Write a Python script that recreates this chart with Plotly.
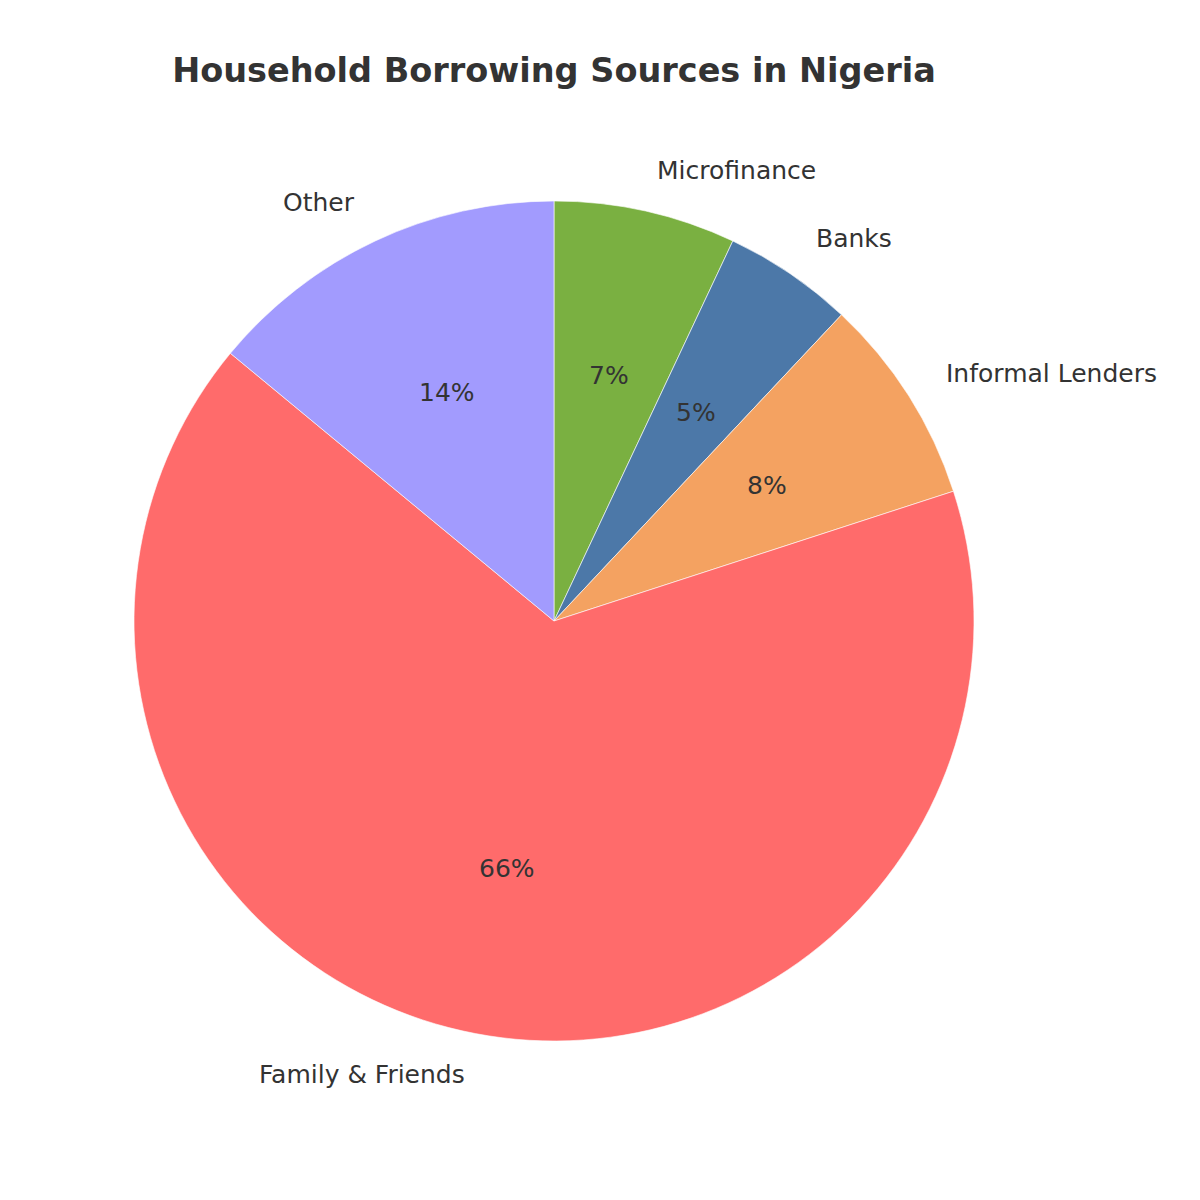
import numpy as np
import plotly.graph_objects as go

# data, in the order the slices run counterclockwise from 12 o'clock
sources = ["Other", "Family & Friends", "Informal Lenders", "Banks", "Microfinance"]
shares = [14, 66, 8, 5, 7]
colors = ["#A29BFE", "#FF6B6B", "#F4A261", "#4C78A8", "#7AB041"]

W = H = 1200
off = 8  # page body margin, the plot div sits 8px in from the window edge
cx, cy, r = 554 - off, 621 - off, 420  # pie centre / radius in pixels
text_col = "#333333"
font = "DejaVu Sans"

fig = go.Figure()
# plotly draws clockwise from 12 o'clock, so feed the slices reversed
fig.add_trace(go.Pie(
    labels=sources[::-1],
    values=shares[::-1],
    sort=False,
    direction="clockwise",
    rotation=0,
    marker=dict(colors=colors[::-1], line=dict(color="white", width=0.6)),
    textinfo="none",
    hoverinfo="label+percent",
    domain=dict(x=[(cx - r) / W, (cx + r) / W],
                y=[(H - cy - r) / H, (H - cy + r) / H]),
    showlegend=False,
))

# labels outside at 1.1r, percentages inside at 0.6r (matplotlib style)
vals = np.array(shares, dtype=float)
frac = vals / vals.sum()
mids = 90 + 360 * (np.cumsum(frac) - frac / 2)
annotations = []
for name, f, a in zip(sources, frac, mids):
    ang = np.deg2rad(a)
    lx = cx + 1.1 * r * np.cos(ang)
    ly = cy - 1.1 * r * np.sin(ang)
    annotations.append(dict(
        x=lx / W, y=1 - ly / H, xref="paper", yref="paper",
        text=name, showarrow=False,
        xanchor="left" if np.cos(ang) > 0 else "right", yanchor="middle",
        font=dict(family=font, size=25, color=text_col),
    ))
    px = cx + 0.6 * r * np.cos(ang)
    py = cy - 0.6 * r * np.sin(ang)
    annotations.append(dict(
        x=px / W, y=1 - py / H, xref="paper", yref="paper",
        text=f"{f * 100:.0f}%", showarrow=False,
        xanchor="center", yanchor="middle",
        font=dict(family=font, size=25, color=text_col),
    ))

fig.update_layout(
    width=W, height=H,
    margin=dict(l=0, r=0, t=0, b=0),
    paper_bgcolor="white",
    plot_bgcolor="white",
    title=dict(
        text="<b>Household Borrowing Sources in Nigeria</b>",
        x=cx / W, xanchor="center",
        y=1 - (70 - off) / H, yanchor="middle",
        font=dict(family=font, size=33.5, color=text_col),
    ),
    annotations=annotations,
)

fig.write_html("out.html")
